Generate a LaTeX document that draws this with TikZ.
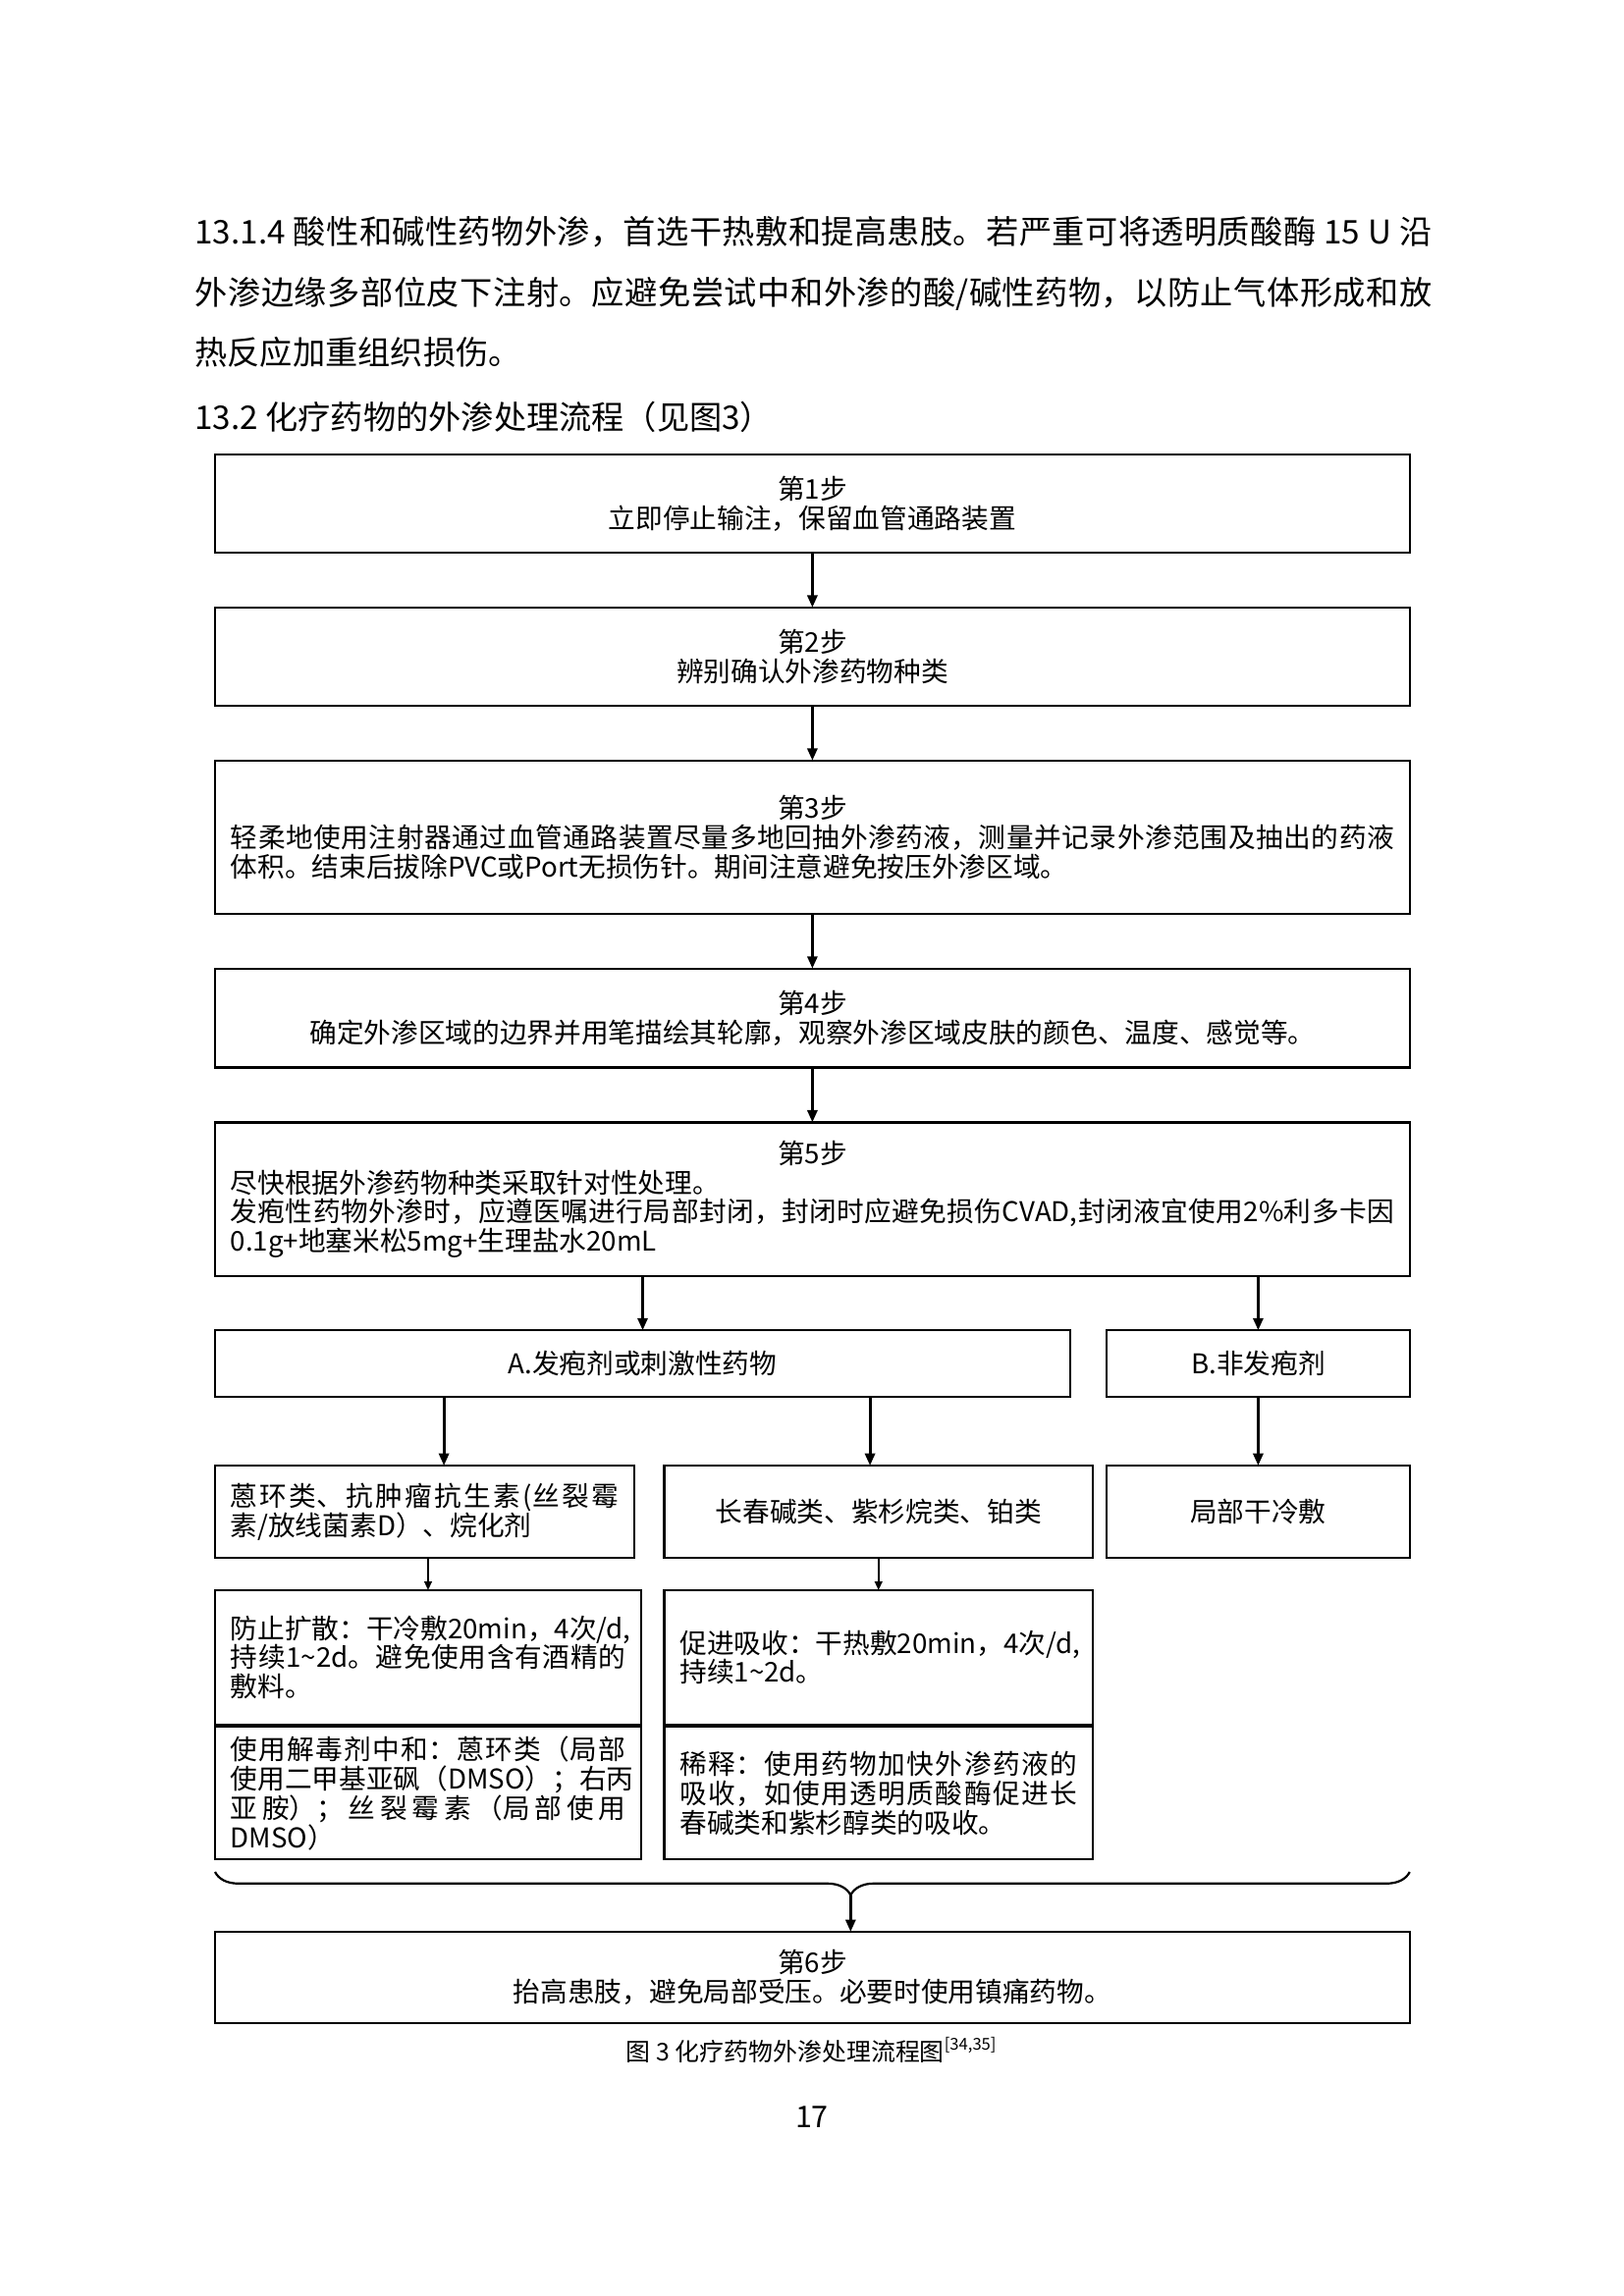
\documentclass[tikz,border=0pt]{standalone}
\usepackage{fontspec}
\setmainfont{Noto Sans CJK SC}
\usetikzlibrary{
  arrows.meta,
  positioning,
  calc,
  decorations.pathreplacing
}
\XeTeXlinebreaklocale "zh"
\XeTeXlinebreakskip=0pt plus 1pt
\setlength{\parindent}{0pt}

\begin{document}
\begin{tikzpicture}[
  font=\fontsize{10}{10.8}\selectfont,
  node distance=0.71cm,
  stepbox/.style={
    draw,
    line width=0.8pt,
    outer sep=0pt,
    minimum width=15.45cm,
    inner ysep=0pt,
    minimum height=1.27cm,
    align=center
  },
  wordbox/.style={
    stepbox,
    text width=15.05cm,
    inner xsep=0.2cm,
    align=justify
  },
  subbox/.style={
    draw,
    line width=0.8pt,
    outer sep=0pt,
    inner xsep=0.2cm,
    inner ysep=0pt,
    align=justify
  },
  labelbox/.style={subbox, align=center},
  arrow/.style={-{Triangle[length=4.5pt,width=3.6pt]}, line width=1.1pt},
  thinarrow/.style={-{Triangle[length=3.2pt,width=2.8pt]}, line width=0.6pt}
]
\useasboundingbox (0,0) rectangle (21,-29.7);

% text above the chart
\node[anchor=north west, inner sep=0pt, text width=16cm, align=justify,
  font=\fontsize{12}{22.3}\selectfont] (intro) at (2.514,-2.79)
  {13.1.4 酸性和碱性药物外渗，首选干热敷和提高患肢。若严重可将透明质酸酶 15 U 沿\linebreak 外渗边缘多部位皮下注射。应避免尝试中和外渗的酸/碱性药物，以防止气体形成和放\linebreak 热反应加重组织损伤。\par\vspace{1.5pt}13.2 化疗药物的外渗处理流程（见图3）};

% steps 1-5
\node[stepbox, anchor=north west] (s1) at (2.781,-5.879)
  {第1步\\立即停止输注，保留血管通路装置};
\node[stepbox, below=of s1] (s2)
  {第2步\\辨别确认外渗药物种类};
\node[wordbox, below=of s2, minimum height=1.98cm] (s3)
  {{\centering 第3步\par}轻柔地使用注射器通过血管通路装置尽量多地回抽外渗药液，测量并记录外渗范围及抽出的药液\linebreak 体积。结束后拔除PVC或Port无损伤针。期间注意避免按压外渗区域。};
\node[stepbox, below=of s3, minimum height=1.28cm] (s4)
  {第4步\\确定外渗区域的边界并用笔描绘其轮廓，观察外渗区域皮肤的颜色、温度、感觉等。};
\node[wordbox, below=of s4, minimum height=1.99cm] (s5)
  {{\centering 第5步\par}尽快根据外渗药物种类采取针对性处理。\par 发疱性药物外渗时，应遵医嘱进行局部封闭，封闭时应避免损伤CVAD,封闭液宜使用2\%利多卡因\linebreak 0.1g+地塞米松5mg+生理盐水20mL};

% drug classes
\node[labelbox, minimum width=11.06cm, minimum height=0.86cm,
  below=0.70cm of s5.south west, anchor=north west] (catA)
  {A.发疱剂或刺激性药物};
\node[labelbox, minimum width=3.92cm, minimum height=0.86cm,
  right=0.47cm of catA.north east, anchor=north west] (catB)
  {B.非发疱剂};

\node[subbox, text width=5.02cm, minimum height=1.19cm,
  below=0.89cm of catA.south west, anchor=north west] (a1)
  {蒽环类、抗肿瘤抗生素(丝裂霉\linebreak 素/放线菌素D）、烷化剂};
\node[labelbox, minimum width=3.92cm, minimum height=1.19cm,
  below=0.89cm of catB.south, anchor=north] (b1)
  {局部干冷敷};
\node[labelbox, minimum width=5.54cm, minimum height=1.19cm,
  left=0.18cm of b1.north west, anchor=north east] (a2)
  {长春碱类、紫杉烷类、铂类};

% treatments
\node[subbox, text width=5.11cm, minimum height=1.74cm,
  below=0.42cm of a1.south west, anchor=north west] (a1a)
  {\mbox{防止扩散：干冷敷20min，4次/d,}\linebreak 持续1\textasciitilde 2d。避免使用含有酒精的\linebreak 敷料。};
\node[subbox, text width=5.14cm, minimum height=1.74cm,
  below=0.42cm of a2.south east, anchor=north east] (a2a)
  {\mbox{促进吸收：干热敷20min，4次/d,}\linebreak 持续1\textasciitilde 2d。};
\node[subbox, text width=5.11cm, minimum height=1.71cm,
  below=0.03cm of a1a.south west, anchor=north west] (a1b)
  {使用解毒剂中和：蒽环类（局部\linebreak \mbox{使用二甲基亚砜（DMSO）；右丙}\linebreak 亚胺）；丝裂霉素（局部使用\linebreak DMSO）};
\node[subbox, text width=5.14cm, minimum height=1.71cm,
  below=0.03cm of a2a.south east, anchor=north east] (a2b)
  {稀释：使用药物加快外渗药液的\linebreak 吸收，如使用透明质酸酶促进长\linebreak 春碱类和紫杉醇类的吸收。};

% step 6
\node[stepbox, minimum height=1.18cm,
  below=0.94cm of a1b.south west, anchor=north west] (s6)
  {第6步\\抬高患肢，避免局部受压。必要时使用镇痛药物。};

\coordinate (braceL) at ($(a1b.south west)+(0,-0.165cm)$);
\coordinate (braceR) at (braceL -| s6.east);
\coordinate (braceTip) at ($(braceL)!0.532!(braceR)+(0,-0.3cm)$);
\draw[line width=0.8pt, decorate,
  decoration={brace, mirror, amplitude=0.3cm, aspect=0.532}] (braceL) -- (braceR);

% caption and page number
\node[font=\fontsize{9}{11}\selectfont] (caption) at (10.50,-26.52)
  {图 3 化疗药物外渗处理流程图\textsuperscript{[34,35]}};
\node[font=\fontsize{11}{13}\selectfont] (pagenum) at (10.50,-27.39) {17};

\draw[arrow] (s1) -- (s2);
\draw[arrow] (s2) -- (s3);
\draw[arrow] (s3) -- (s4);
\draw[arrow] (s4) -- (s5);
\draw[arrow] (s5.south -| catA.north) -- (catA.north);
\draw[arrow] (s5.south -| catB.north) -- (catB.north);
\draw[arrow] ($(catA.south -| a1.north)+(0.25cm,0)$) -- ($(a1.north)+(0.25cm,0)$);
\draw[arrow] ($(catA.south -| a2.north)+(-0.11cm,0)$) -- ($(a2.north)+(-0.11cm,0)$);
\draw[arrow] (catB) -- (b1);
\draw[thinarrow] (a1.south -| a1a.north) -- (a1a.north);
\draw[thinarrow] (a2) -- (a2a);
\draw[arrow] (braceTip) -- (braceTip |- s6.north);

\end{tikzpicture}
\end{document}
